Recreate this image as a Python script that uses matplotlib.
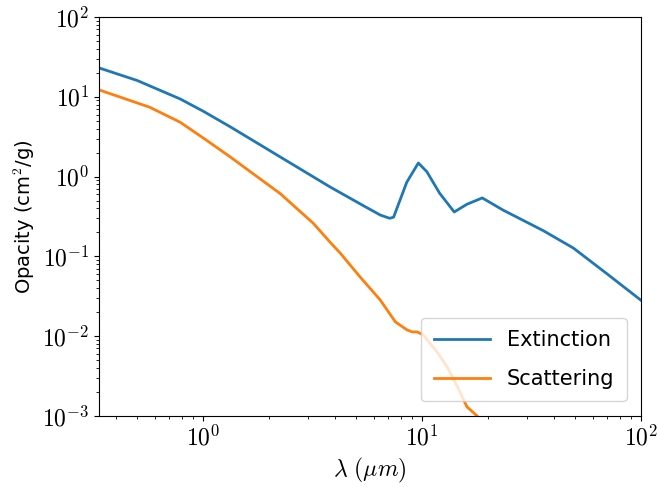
import numpy as np
import matplotlib
matplotlib.use("Agg")
import matplotlib.pyplot as plt
from matplotlib.ticker import FuncFormatter

plt.rcParams["mathtext.fontset"] = "cm"
plt.rcParams["font.family"] = ["DejaVu Sans"]

# Extinction opacity (cm^2/g) vs wavelength (um)
ext_wl = [0.335, 0.5, 0.785, 1.0, 1.33, 2.25, 3.8, 5.4, 6.43, 7.1, 7.4,
          8.5, 9.6, 10.5, 12.0, 14.0, 16.0, 18.8, 23.4, 35.7, 49.0, 70.0, 100.0]
ext_val = [23.0, 16.0, 9.4, 6.6, 4.2, 1.76, 0.74, 0.43, 0.33, 0.30, 0.31,
           0.85, 1.48, 1.15, 0.62, 0.36, 0.45, 0.54, 0.38, 0.21, 0.127, 0.06, 0.028]

# Scattering opacity
sca_wl = [0.335, 0.57, 0.785, 1.0, 1.33, 2.25, 3.18, 3.8, 4.22, 5.21, 6.43, 7.54,
          8.51, 9.0, 9.47, 10.1, 11.7, 13.0, 14.5, 16.0, 17.8, 22.0]
sca_val = [12.2, 7.4, 4.8, 3.05, 1.76, 0.61, 0.26, 0.15, 0.11, 0.055, 0.0284, 0.0151,
           0.012, 0.0113, 0.0113, 0.0104, 0.0063, 0.0041, 0.0023, 0.0013,
           0.001, 0.0005]

fig, ax = plt.subplots(figsize=(6.57, 4.87), dpi=100)
ax.plot(ext_wl, ext_val, color="#1f77b4", lw=2.0, label="Extinction")
ax.plot(sca_wl, sca_val, color="#ff7f0e", lw=2.0, label="Scattering")
ax.set_xscale("log")
ax.set_yscale("log")
ax.set_xlim(0.335, 100)
ax.set_ylim(1e-3, 1e2)

# tick labels in computer modern like the LaTeX original
pow_fmt = FuncFormatter(lambda v, pos: r"$10^{%d}$" % round(np.log10(v)))
ax.xaxis.set_major_formatter(pow_fmt)
ax.yaxis.set_major_formatter(pow_fmt)
ax.tick_params(axis="both", which="major", labelsize=17)

ax.set_xlabel(r"$\lambda\ (\mu m)$", fontsize=17)
ax.set_ylabel(r"Opacity (cm$^2$/g)", fontsize=14)
ax.legend(loc="lower right", fontsize=15, framealpha=0.8, handlelength=2.7,
          labelspacing=0.9, borderpad=0.6, borderaxespad=0.7)

fig.subplots_adjust(left=0.151, right=0.976, top=0.965, bottom=0.146)
fig.savefig("out.png", dpi=100)
